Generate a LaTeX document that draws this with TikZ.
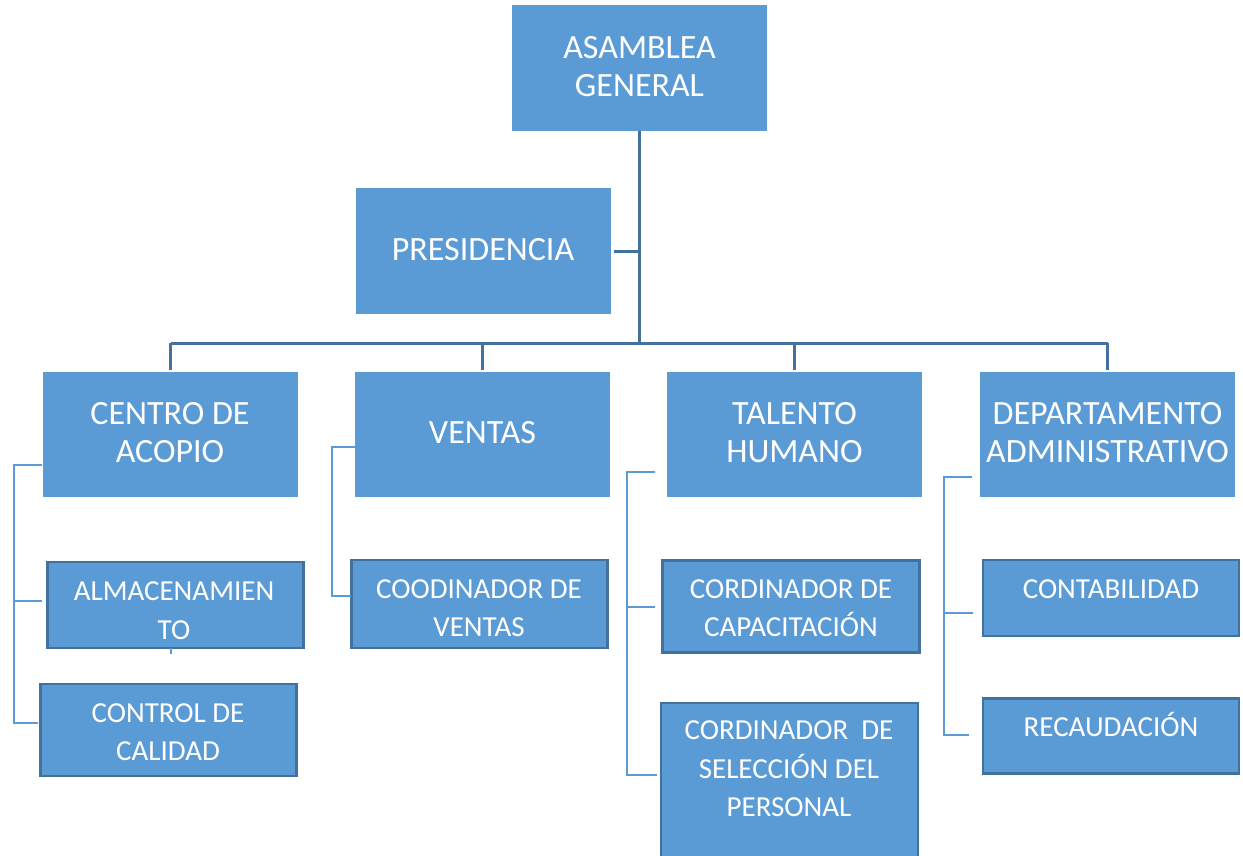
\documentclass[tikz,border=0pt]{standalone}
\usepackage{fontspec}
\setmainfont{Carlito}
\definecolor{boxblue}{HTML}{5B9BD5}
\definecolor{darkblue}{HTML}{41719C}
\definecolor{lightline}{HTML}{5B9BD5}
\begin{document}
\begin{tikzpicture}[x=1pt,y=-1pt,
  box/.style={rectangle, fill=boxblue, draw=none, inner sep=0pt, outer sep=0pt},
  subbox/.style={rectangle, fill=boxblue, draw=darkblue, line width=2.5pt, inner sep=0pt, outer sep=0pt},
  big/.style={text=white, align=center, inner sep=0pt, font=\fontsize{34}{38}\selectfont},
  small/.style={text=white, align=center, inner sep=0pt, font=\fontsize{29}{38.5}\selectfont},
  onebig/.style={text height=21.5pt, text depth=0pt},
  onesmall/.style={text height=18.3pt, text depth=0pt},
  main/.style={draw=darkblue, line width=3pt},
  sub/.style={draw=lightline, line width=1.8pt}]
\useasboundingbox (0,0) rectangle (1243,855);
\clip (0,0) rectangle (1243,855);

% level 1
\node[box, minimum width=255pt, minimum height=126pt] (ag) at (639.5,68) {};
\node[box, minimum width=255pt, minimum height=126pt] (pr) at (483,251) {};
% level 2
\node[box, minimum width=255pt, minimum height=125pt] (ca) at (170.5,434.5) {};
\node[box, minimum width=255pt, minimum height=125pt] (ve) at (482.5,434.5) {};
\node[box, minimum width=255pt, minimum height=125pt] (th) at (794.5,434.5) {};
\node[box, minimum width=255pt, minimum height=125pt] (de) at (1107.5,434.5) {};
% level 3
\node[subbox, minimum width=256pt, minimum height=86pt] (alm) at (175.25,605) {};
\node[subbox, minimum width=256pt, minimum height=92pt] (cc) at (168.25,730) {};
\node[subbox, minimum width=256pt, minimum height=88pt] (cv) at (479.25,604) {};
\node[subbox, minimum width=257pt, minimum height=92pt] (cap) at (791,606.25) {};
\node[subbox, minimum width=257pt, minimum height=171pt] (sel) at (789.5,788.25) {};
\node[subbox, minimum width=256pt, minimum height=76pt] (con) at (1110.75,598) {};
\node[subbox, minimum width=256pt, minimum height=75pt] (rec) at (1110.75,735.75) {};

% main connectors
\coordinate (bus) at (639,343);
\draw[main] (ag.south -| bus) -- (bus);
\draw[main] ([xshift=3pt]pr.east) -- (pr.east -| bus);
\draw[main] (ca.north |- bus) -- (de.north |- bus);
\foreach \n in {ca,ve,th,de} {
  \draw[main] (\n.north |- bus) -- ([yshift=2pt]\n.north);
}

% sub brackets
\coordinate (k1t) at (14,465);
\coordinate (k1b) at (14,723);
\draw[sub] ([xshift=-1pt]ca.west |- k1t) -- (k1t) -- (k1b) -- ([xshift=-2pt]cc.west |- k1b);
\draw[sub] (k1t |- 0,601) -- ([xshift=-5pt]alm.west |- 0,601);
\draw[sub] ([xshift=-4pt]alm.south) -- ++(0,6);

\coordinate (k2t) at (332,447);
\coordinate (k2b) at (332,596);
\draw[sub] (ve.west |- k2t) -- (k2t) -- (k2b) -- (cv.west |- k2b);

\coordinate (k3t) at (627,472);
\coordinate (k3b) at (627,775);
\draw[sub] ([xshift=-12pt]th.west |- k3t) -- (k3t) -- (k3b) -- ([xshift=-4pt]sel.west |- k3b);
\draw[sub] (k3t |- 0,607) -- ([xshift=-8pt]cap.west |- 0,607);

\coordinate (k4t) at (944,477);
\coordinate (k4b) at (944,735);
\draw[sub] ([xshift=-8pt]de.west |- k4t) -- (k4t) -- (k4b) -- ([xshift=-14pt]rec.west |- k4b);
\draw[sub] (k4t |- 0,613) -- ([xshift=-10pt]con.west |- 0,613);

% texts
\node[big] (ag-t) at (639.5,67) {ASAMBLEA\\GENERAL};
\node[big, onebig] (pr-t) at (483,250) {PRESIDENCIA};
\node[big] (ca-t) at (170,433) {CENTRO DE\\ACOPIO};
\node[big, onebig] (ve-t) at (482.5,433) {VENTAS};
\node[big] (th-t) at (794.5,433) {TALENTO\\HUMANO};
\node[big] (de-t) at (1107.5,433) {DEPARTAMENTO\\ADMINISTRATIVO};
\node[small] (alm-t) at (174,610.5) {ALMACENAMIEN\\TO};
\node[small] (cc-t) at (168,732) {CONTROL DE\\CALIDAD};
\node[small] (cv-t) at (479,608) {COODINADOR DE\\VENTAS};
\node[small] (cap-t) at (791,608) {CORDINADOR DE\\CAPACITACIÓN};
\node[small] (sel-t) at (789,769) {CORDINADOR\ \ DE\\SELECCIÓN DEL\\PERSONAL};
\node[small, onesmall] (con-t) at (1111,589) {CONTABILIDAD};
\node[small, onesmall] (rec-t) at (1111,727) {RECAUDACIÓN};
\end{tikzpicture}
\end{document}
